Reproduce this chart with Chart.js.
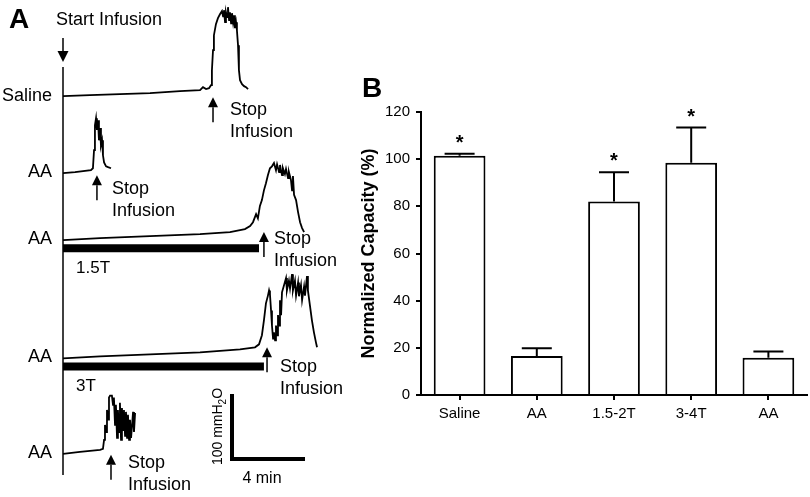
<!DOCTYPE html>
<html>
<head>
<meta charset="utf-8">
<script src="https://cdn.jsdelivr.net/npm/chart.js@4/dist/chart.umd.min.js"></script>
<style>
  html, body { margin: 0; padding: 0; background: #fff; }
  #wrap { position: relative; width: 810px; height: 497px; }
  #traces { position: absolute; left: 0; top: 0; }
  #bars { position: absolute; left: 350px; top: 0; }
</style>
</head>
<body>
<div id="wrap">
  <canvas id="traces" width="350" height="497"></canvas>
  <canvas id="bars" width="460" height="497"></canvas>
</div>
<script>
// --- Panel B data ---
const groups = ['Saline', 'AA', '1.5-2T', '3-4T', 'AA'];
const capacityMean = [101.5, 16.5, 82, 98.5, 15.8];
const capacitySem = [0.8, 3.3, 12.4, 14.9, 2.6];
const significant = [true, false, true, true, false];
const yTicks = [0, 20, 40, 60, 80, 100, 120];

// --- Panel A data (time in min from start of infusion, pressure in mmH2O above baseline) ---
const traceLabels = ['Saline', 'AA', 'AA', 'AA', 'AA'];
const traceOffsets = [617, 500, 397, 215, 68];   // vertical stacking of the recordings (mmH2O)

const salineTime = [0, 1.48, 3.12, 4.77, 6.41, 7.51, 7.67, 7.84, 8.0, 8.11, 8.16, 8.22, 8.27, 8.38, 8.49, 8.6, 8.71, 8.77, 8.82, 8.88, 8.93, 8.99, 9.04, 9.1, 9.15, 9.21, 9.26, 9.32, 9.37, 9.42, 9.48, 9.53, 9.59, 9.64, 9.7, 9.81, 9.92, 10.03, 10.14];
const salinePressure = [0, 1.5, 3, 4.6, 7.7, 9.2, 13.8, 10.8, 12.3, 16.9, 40, 70.8, 93.8, 110.8, 120, 126, 130.8, 123, 132.3, 113.8, 129, 121.5, 137, 116.9, 129, 112, 127.7, 113.8, 124.6, 104.6, 113.8, 101.5, 78.5, 40, 24.6, 18.5, 15.4, 13.8, 10.8];

const aaShortTime = [0, 0.66, 1.53, 1.64, 1.7, 1.75, 1.81, 1.86, 1.92, 1.97, 2.03, 2.08, 2.14, 2.19, 2.25, 2.36, 2.47, 2.63];
const aaShortPressure = [-1.5, 0, 3, 6, 34, 72, 83, 65, 80, 49, 68, 41.5, 49, 26, 15, 9, 7.7, 6];

const aa15Time = [0, 2.03, 4.77, 7.51, 9.15, 9.97, 10.25, 10.41, 10.58, 10.68, 10.79, 10.9, 11.01, 11.12, 11.23, 11.34, 11.45, 11.56, 11.67, 11.73, 11.84, 11.89, 12.0, 12.05, 12.16, 12.22, 12.33, 12.38, 12.49, 12.55, 12.6, 12.66, 12.77, 12.88, 12.99, 13.1, 13.21];
const aa15Pressure = [-1.5, 1.5, 4.6, 7.7, 10.8, 15.4, 20, 26, 38.5, 32, 51, 60, 75, 86, 98.5, 109, 112, 117, 106, 115, 103, 114, 98.5, 109, 100, 108, 94, 103, 91, 75, 97, 68, 60, 41.5, 26, 17, 10.8];

const aa3Time = [0, 2.03, 4.77, 7.51, 9.7, 10.52, 10.74, 10.9, 11.01, 11.12, 11.23, 11.29, 11.34, 11.4, 11.45, 11.51, 11.56, 11.62, 11.67, 11.73, 11.78, 11.84, 11.89, 11.95, 12.0, 12.11, 12.22, 12.27, 12.38, 12.44, 12.55, 12.6, 12.71, 12.77, 12.88, 12.93, 13.04, 13.1, 13.21, 13.26, 13.37, 13.42, 13.53, 13.64, 13.75, 13.86, 13.92];
const aa3Pressure = [-1.5, 1.5, 4.6, 7.7, 12.3, 15.4, 20, 34, 57, 83, 95, 103, 97, 72, 49, 29, 38.5, 26, 49, 34, 65, 49, 88, 65, 100, 111, 122, 103, 118, 106, 128, 103, 118, 95, 115, 94, 111, 88, 109, 95, 125, 103, 80, 57, 38.5, 23, 15.4];

const aaLastTime = [0, 0.93, 2.03, 2.19, 2.25, 2.3, 2.36, 2.41, 2.47, 2.52, 2.58, 2.68, 2.74, 2.79, 2.85, 2.9, 2.96, 3.01, 3.07, 3.12, 3.18, 3.23, 3.29, 3.34, 3.4, 3.45, 3.51, 3.56, 3.62, 3.67, 3.73, 3.84, 3.89, 3.95];
const aaLastPressure = [-1.5, 1.5, 4.6, 6, 20, 43, 32, 66, 51, 85, 88, 88, 74, 85, 43, 74, 23, 66, 32, 77, 20, 69, 35, 66, 26, 63, 23, 58.5, 20, 51, 23, 63, 32, 61.5];

const traceTimes = [salineTime, aaShortTime, aa15Time, aa3Time, aaLastTime];
const tracePressures = [salinePressure, aaShortPressure, aa15Pressure, aa3Pressure, aaLastPressure];

const stopTimes = [8.22, 1.86, 11.01, 11.18, 2.63];      // min
const stimTrace = [2, 3];                                 // which recordings had stimulation
const stimLabels = ['1.5T', '3T'];
const stimEnd = [10.74, 11.01];                           // min
const scaleBarMin = 4;                                    // min
const scaleBarPressure = 100;                             // mmH2O

const FONT = "'Liberation Sans', Arial, sans-serif";
Chart.defaults.font.family = FONT;
Chart.defaults.color = '#000';

// --- Panel A: annotations drawn on top of the recordings ---
const annot = {
  stopArrow: [
    { tipDy: 1, textDx: 17, textDy: 13 },
    { tipDy: 3, textDx: 15, textDy: 14 },
    { tipDy: -7, textDx: 10, textDy: 7 },
    { tipDy: -10, textDx: 13, textDy: 20 },
    { tipDy: 2, textDx: 17, textDy: 8 }
  ],
  stimDy: -14,
  scaleBarAt: { t: 9.26, p: 58.5 }
};

const drawArrow = (ctx, x, tipY, tailY, head) => {
  const dir = tailY > tipY ? 1 : -1;
  ctx.beginPath();
  ctx.moveTo(x, tailY);
  ctx.lineTo(x, tipY + dir * head);
  ctx.stroke();
  ctx.beginPath();
  ctx.moveTo(x, tipY);
  ctx.lineTo(x - head / 2, tipY + dir * head);
  ctx.lineTo(x + head / 2, tipY + dir * head);
  ctx.closePath();
  ctx.fill();
};

const traceAnnotations = {
  id: 'traceAnnotations',
  afterDatasetsDraw(chart) {
    const { ctx, scales: { x, y } } = chart;
    const x0 = x.getPixelForValue(0);
    ctx.save();
    ctx.fillStyle = '#000';
    ctx.strokeStyle = '#000';

    // panel letter + start of infusion
    ctx.font = `bold 28px ${FONT}`;
    ctx.textBaseline = 'alphabetic';
    ctx.fillText('A', 9, 28);
    ctx.font = `18px ${FONT}`;
    ctx.textBaseline = 'middle';
    ctx.fillText('Start Infusion', 56, 20);
    ctx.lineWidth = 1.5;
    drawArrow(ctx, x0, 62, 38, 11);
    ctx.beginPath();
    ctx.moveTo(x0, 67);
    ctx.lineTo(x0, 475);
    ctx.stroke();

    // recording labels and stop arrows
    traceLabels.forEach((label, i) => {
      const by = y.getPixelForValue(traceOffsets[i]);
      ctx.textAlign = 'right';
      ctx.fillText(label, x0 - 11, by);
      const a = annot.stopArrow[i];
      const ax = x.getPixelForValue(stopTimes[i]);
      const tip = by + a.tipDy;
      drawArrow(ctx, ax, tip, tip + 25, 10);
      ctx.textAlign = 'left';
      ctx.fillText('Stop', ax + a.textDx, tip + a.textDy);
      ctx.fillText('Infusion', ax + a.textDx, tip + a.textDy + 22);
    });

    // stimulation labels
    stimTrace.forEach((ti, k) => {
      const by = y.getPixelForValue(traceOffsets[ti] + annot.stimDy);
      ctx.textAlign = 'left';
      ctx.font = `17px ${FONT}`;
      ctx.fillText(stimLabels[k], x0 + 13, by + 20);
    });

    // scale bar labels
    const sx = x.getPixelForValue(annot.scaleBarAt.t);
    const sy = y.getPixelForValue(annot.scaleBarAt.p);
    const sTop = y.getPixelForValue(annot.scaleBarAt.p + scaleBarPressure);
    ctx.font = `16px ${FONT}`;
    ctx.textAlign = 'center';
    ctx.fillText(`${scaleBarMin} min`, sx + 30, sy + 20);

    ctx.translate(sx - 14, (sy + sTop) / 2);
    ctx.rotate(-Math.PI / 2);
    ctx.textAlign = 'left';
    ctx.textBaseline = 'middle';
    const main = `${scaleBarPressure} mmH`;
    ctx.font = `14px ${FONT}`;
    const w1 = ctx.measureText(main).width;
    ctx.font = `10px ${FONT}`;
    const w2 = ctx.measureText('2').width;
    ctx.font = `14px ${FONT}`;
    const w3 = ctx.measureText('O').width;
    let cx = -(w1 + w2 + w3) / 2;
    ctx.fillText(main, cx, 0);
    cx += w1;
    ctx.font = `10px ${FONT}`;
    ctx.fillText('2', cx, 5);
    cx += w2;
    ctx.font = `14px ${FONT}`;
    ctx.fillText('O', cx, 0);
    ctx.restore();
  }
};

const traceDatasets = traceTimes.map((times, i) => ({
  data: times.map((t, j) => ({ x: t, y: traceOffsets[i] + tracePressures[i][j] })),
  showLine: true,
  borderColor: '#000',
  borderWidth: 1.8,
  pointRadius: 0,
  tension: 0
}));

const stimDatasets = stimTrace.map((ti, k) => ({
  data: [{ x: 0, y: traceOffsets[ti] + annot.stimDy }, { x: stimEnd[k], y: traceOffsets[ti] + annot.stimDy }],
  showLine: true,
  borderColor: '#000',
  borderWidth: 8,
  pointRadius: 0
}));

const scaleBarDataset = {
  data: [
    { x: annot.scaleBarAt.t, y: annot.scaleBarAt.p + scaleBarPressure },
    { x: annot.scaleBarAt.t, y: annot.scaleBarAt.p },
    { x: annot.scaleBarAt.t + scaleBarMin, y: annot.scaleBarAt.p }
  ],
  showLine: true,
  borderColor: '#000',
  borderWidth: 4,
  borderJoinStyle: 'miter',
  pointRadius: 0
};

new Chart(document.getElementById('traces'), {
  type: 'scatter',
  data: { datasets: [...traceDatasets, ...stimDatasets, scaleBarDataset] },
  options: {
    responsive: false,
    animation: false,
    layout: { padding: { left: 63, right: 31.5, top: 0, bottom: 0 } },
    scales: {
      x: { type: 'linear', min: 0, max: 14, display: false },
      y: { type: 'linear', min: 0, max: 765, display: false }
    },
    plugins: { legend: { display: false }, tooltip: { enabled: false } }
  },
  plugins: [traceAnnotations]
});

// --- Panel B: error bars, significance stars and panel letter ---
const errorBars = {
  id: 'errorBars',
  afterDatasetsDraw(chart) {
    const { ctx, scales: { y } } = chart;
    const meta = chart.getDatasetMeta(0);
    ctx.save();
    ctx.strokeStyle = '#000';
    ctx.fillStyle = '#000';
    ctx.lineWidth = 2;
    meta.data.forEach((bar, i) => {
      const base = y.getPixelForValue(capacityMean[i]);
      const top = y.getPixelForValue(capacityMean[i] + capacitySem[i]);
      ctx.beginPath();
      ctx.moveTo(bar.x, base);
      ctx.lineTo(bar.x, top);
      ctx.moveTo(bar.x - 15, top);
      ctx.lineTo(bar.x + 15, top);
      ctx.stroke();
      if (significant[i]) {
        ctx.font = `bold 20px ${FONT}`;
        ctx.textAlign = 'center';
        ctx.textBaseline = 'alphabetic';
        ctx.fillText('*', bar.x, top - 5);
      }
    });
    ctx.font = `bold 28px ${FONT}`;
    ctx.textAlign = 'left';
    ctx.textBaseline = 'alphabetic';
    ctx.fillText('B', 12, 97);
    ctx.restore();
  }
};

new Chart(document.getElementById('bars'), {
  type: 'bar',
  data: {
    labels: groups,
    datasets: [{
      data: capacityMean,
      backgroundColor: '#fff',
      borderColor: '#000',
      borderWidth: 2,
      borderSkipped: 'bottom',
      barPercentage: 0.67,
      categoryPercentage: 1
    }]
  },
  options: {
    responsive: false,
    animation: false,
    layout: { padding: { left: 4, right: 3, top: 112, bottom: 58 } },
    plugins: { legend: { display: false }, tooltip: { enabled: false } },
    scales: {
      x: {
        grid: { drawOnChartArea: false, offset: false, tickLength: 5, color: '#000', lineWidth: 2 },
        border: { color: '#000', width: 2 },
        ticks: { color: '#000', font: { size: 15 }, padding: 5 },
        afterFit: (s) => { s.height = 44; }
      },
      y: {
        min: 0,
        max: 120,
        afterBuildTicks: (s) => { s.ticks = yTicks.map(v => ({ value: v })); },
        grid: { drawOnChartArea: false, tickLength: 5, color: '#000', lineWidth: 2 },
        border: { color: '#000', width: 2 },
        ticks: { color: '#000', font: { size: 15 }, padding: 6 },
        title: { display: true, text: 'Normalized Capacity (%)', color: '#000', font: { size: 18, weight: 'bold' }, padding: { top: 4, bottom: 4 } },
        afterFit: (s) => { s.width = 67; }
      }
    }
  },
  plugins: [errorBars]
});
</script>
</body>
</html>
